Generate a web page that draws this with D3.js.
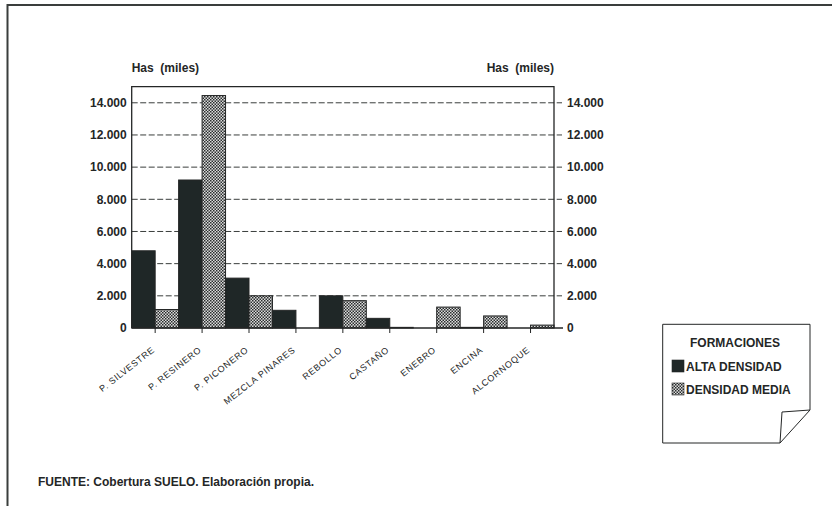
<!DOCTYPE html>
<html><head><meta charset="utf-8">
<script src="https://cdn.jsdelivr.net/npm/d3@7"></script>
<style>
html,body{margin:0;padding:0;background:#fff;}
svg{display:block;}
text{font-family:"Liberation Sans",Arial,Helvetica,sans-serif;fill:#242626;}
</style></head>
<body>
<svg id="chart" width="832" height="506"></svg>
<script>
const categories = ["P. SILVESTRE","P. RESINERO","P. PICONERO","MEZCLA PINARES","REBOLLO","CASTAÑO","ENEBRO","ENCINA","ALCORNOQUE"];
const altaDensidad = [4800, 9200, 3100, 1100, 2000, 600, 0, 40, 0];
const densidadMedia = [1150, 14450, 2000, 0, 1700, 40, 1300, 750, 180];
const seriesNames = ["ALTA DENSIDAD","DENSIDAD MEDIA"];
const yTicks = [0,2000,4000,6000,8000,10000,12000,14000];
const axisTitle = "Has  (miles)";
const legendTitle = "FORMACIONES";
const sourceText = "FUENTE: Cobertura SUELO. Elaboración propia.";

const ink = "#242626";
const svg = d3.select("#chart");

const defs = svg.append("defs");
const pat = defs.append("pattern").attr("id","checker").attr("patternUnits","userSpaceOnUse")
  .attr("width",3).attr("height",3);
pat.append("rect").attr("width",3).attr("height",3).attr("fill","#dcdcdc");
pat.append("rect").attr("x",0).attr("y",0).attr("width",1.5).attr("height",1.5).attr("fill","#2a2e2e");
pat.append("rect").attr("x",1.5).attr("y",1.5).attr("width",1.5).attr("height",1.5).attr("fill","#2a2e2e");

// outer frame
svg.append("path").attr("d","M7.5,506 V5 H832").attr("fill","none").attr("stroke","#3a3e3c").attr("stroke-width",2);

const L = 131.7, R = 554, T = 86.7, B = 328;
const x = d3.scaleBand().domain(categories).range([L,R]).padding(0);
const xs = d3.scaleBand().domain([0,1]).range([0,x.bandwidth()]).padding(0);
const y = d3.scaleLinear().domain([0,15000]).range([B,T]);

const loc = d3.formatLocale({decimal:",",thousands:".",grouping:[3],currency:["","€"]});
const fmt = loc.format(",d");

// gridlines (dashed) extending as right ticks
svg.append("g").selectAll("line").data(yTicks.filter(d=>d>0)).join("line")
  .attr("x1",L).attr("x2",R+8).attr("y1",d=>y(d)).attr("y2",d=>y(d))
  .attr("stroke","#3a3e3c").attr("stroke-width",1).attr("stroke-dasharray","6,2.5");

// bars
const data = categories.map((c,i)=>({c, v:[altaDensidad[i], densidadMedia[i]]}));
const g = svg.append("g");
data.forEach(d=>{
  d.v.forEach((v,k)=>{
    if(v<=0) return;
    g.append("rect")
      .attr("x", x(d.c)+xs(k))
      .attr("width", xs.bandwidth())
      .attr("y", y(v))
      .attr("height", B - y(v))
      .attr("fill", k===0 ? "#1f2727" : "url(#checker)")
      .attr("stroke", ink).attr("stroke-width",1);
  });
});

// frame: top, left, right
svg.append("path").attr("d",`M${L},${B} V${T} H${R} V${B}`).attr("fill","none").attr("stroke",ink).attr("stroke-width",1.3);
// zero axis
svg.append("line").attr("x1",L).attr("x2",R+9).attr("y1",B).attr("y2",B).attr("stroke",ink).attr("stroke-width",1.3);

// x ticks
svg.append("g").selectAll("line").data(categories).join("line")
  .attr("x1",d=>x(d)+x.bandwidth()/2).attr("x2",d=>x(d)+x.bandwidth()/2)
  .attr("y1",B).attr("y2",B+5).attr("stroke",ink).attr("stroke-width",1);

// x labels
svg.append("g").selectAll("text").data(categories).join("text")
  .attr("transform",d=>`translate(${x(d)+x.bandwidth()/2},${B+23}) rotate(-38)`)
  .attr("text-anchor","end")
  .style("font-size","9px").style("letter-spacing","0.7px")
  .text(d=>d);

// y labels left and right
svg.append("g").selectAll("text").data(yTicks).join("text")
  .attr("x",L-5).attr("y",d=>y(d)).attr("dy","0.35em").attr("text-anchor","end")
  .style("font-size","12px").style("font-weight","bold").text(d=>fmt(d));
svg.append("g").selectAll("text").data(yTicks).join("text")
  .attr("x",R+13).attr("y",d=>y(d)).attr("dy","0.35em").attr("text-anchor","start")
  .style("font-size","12px").style("font-weight","bold").text(d=>fmt(d));

// axis titles
svg.append("text").attr("x",L).attr("y",72).style("font-size","12px").style("font-weight","bold")
  .attr("xml:space","preserve").text(axisTitle);
svg.append("text").attr("x",R).attr("y",72).attr("text-anchor","end").style("font-size","12px").style("font-weight","bold")
  .attr("xml:space","preserve").text(axisTitle);

// legend
const lg = svg.append("g");
lg.append("path").attr("d","M662.7,324.3 H810 V410 L780,443 H662.7 Z").attr("fill","#fff").attr("stroke",ink).attr("stroke-width",1);
lg.append("path").attr("d","M810,410 L782,412 L780,443").attr("fill","none").attr("stroke",ink).attr("stroke-width",1);
lg.append("text").attr("x",735).attr("y",347).attr("text-anchor","middle").style("font-size","12px").style("font-weight","bold").text(legendTitle);
seriesNames.forEach((s,i)=>{
  const yy = 360 + i*23;
  lg.append("rect").attr("x",672).attr("y",yy).attr("width",12).attr("height",12)
    .attr("fill", i===0 ? "#1f2727" : "url(#checker)").attr("stroke",ink).attr("stroke-width",0.6);
  lg.append("text").attr("x",686).attr("y",yy+10.5).style("font-size","12px").style("font-weight","bold").text(s);
});

// source
svg.append("text").attr("x",38).attr("y",486).style("font-size","12px").style("font-weight","bold").text(sourceText);
</script>
</body></html>
